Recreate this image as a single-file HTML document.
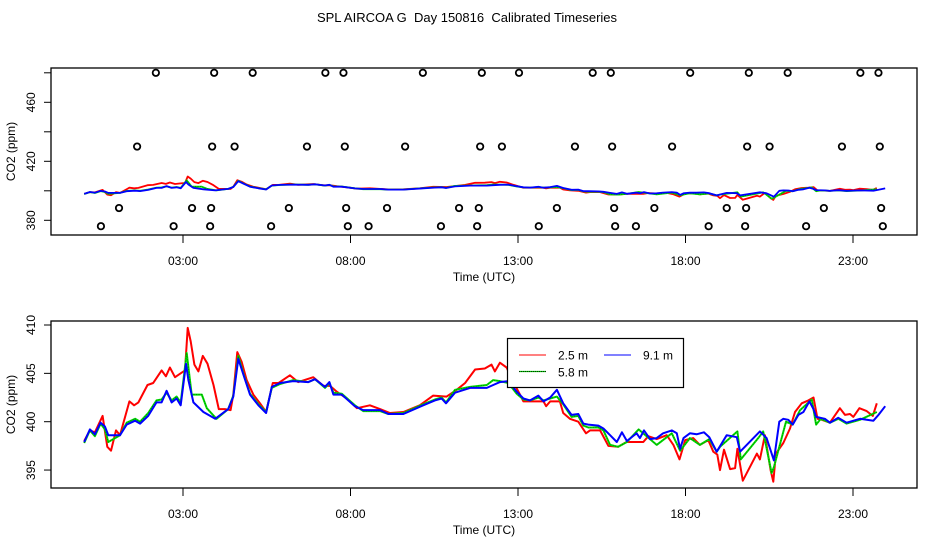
<!DOCTYPE html>
<html><head><meta charset="utf-8"><style>
html,body{margin:0;padding:0;background:#fff;}
svg{display:block;font-family:"Liberation Sans",Arial,sans-serif;}
</style></head><body>
<svg id="chart" width="936" height="540" viewBox="0 0 936 540" xmlns="http://www.w3.org/2000/svg">
<rect width="936" height="540" fill="#fff"/>
<text x="467" y="22" font-size="13" text-anchor="middle" style="white-space:pre" xml:space="preserve">SPL AIRCOA G  Day 150816  Calibrated Timeseries</text>
<g id="top"></g>
<g id="bot"></g>
</svg>
<script>
// ---- data (hours UTC, ppm) ----
const xTickHours = [3, 8, 13, 18, 23];
const xTickLabels = ["03:00", "08:00", "13:00", "18:00", "23:00"];
const topYTicks = [380, 400, 420, 440, 460, 480];
const topYTickLabels = ["380", "", "420", "", "460", ""];
const botYTicks = [395, 400, 405, 410];
const botYTickLabels = ["395", "400", "405", "410"];

const redHours = [0.05,0.22,0.37,0.6,0.74,0.85,1.0,1.12,1.40,1.54,1.67,1.94,2.11,2.36,2.49,2.61,2.76,2.93,3.06,3.14,3.23,3.34,3.46,3.59,3.73,3.91,4.07,4.25,4.42,4.5,4.62,4.75,4.9,5.1,5.3,5.48,5.68,5.85,6.19,6.44,6.89,7.19,7.39,7.59,7.89,8.19,8.58,8.88,9.18,9.58,10.07,10.47,10.87,11.17,11.42,11.72,12.01,12.21,12.31,12.46,12.66,12.86,13.06,13.16,13.76,13.84,13.96,14.25,14.35,14.55,14.8,15.03,15.15,15.45,15.7,15.99,16.24,16.74,16.89,17.14,17.44,17.64,17.82,17.99,18.23,18.43,18.68,18.83,18.95,19.03,19.15,19.33,19.48,19.55,19.71,20.13,20.22,20.37,20.54,20.62,20.70,20.92,21.12,21.27,21.47,21.67,21.82,21.94,22.07,22.31,22.61,22.76,22.91,23.01,23.19,23.41,23.59,23.71];
const redValues = [398.0,399.1,398.9,400.6,397.4,397.0,399.1,398.6,402.1,401.7,402.0,403.8,404.0,405.3,404.7,405.6,404.6,405.0,405.3,409.7,408.3,405.9,405.2,406.8,406.0,403.8,401.3,401.3,401.2,402.8,407.2,406.2,404.3,402.8,401.9,401.0,404.0,404.0,404.8,404.1,404.6,403.7,403.7,403.1,402.4,401.4,401.7,401.3,400.9,401.0,401.7,402.7,402.6,403.3,404.0,405.4,405.5,405.9,405.2,406.1,405.6,404.1,402.8,402.1,402.1,401.6,402.1,402.1,400.9,400.3,400.0,398.8,399.1,399.1,397.5,397.4,397.9,397.9,398.5,398.2,398.6,397.6,396.1,398.1,398.3,397.6,398.1,396.9,396.6,395.0,397.1,395.1,395.2,397.2,393.9,396.7,396.1,398.6,395.0,393.8,396.7,397.8,399.3,401.0,401.9,402.2,402.5,400.3,400.2,399.9,401.4,400.7,400.8,400.5,401.4,401.1,400.6,401.9];

const blueHours = [0.05,0.22,0.37,0.54,0.67,0.77,1.12,1.32,1.57,1.72,1.96,2.21,2.36,2.51,2.66,2.81,2.93,3.09,3.16,3.31,3.61,3.96,4.35,4.50,4.65,4.80,5.0,5.25,5.48,5.65,5.9,6.29,6.74,6.94,7.24,7.37,7.49,7.74,8.13,8.38,8.88,9.13,9.58,10.17,10.52,10.72,10.85,11.12,11.57,12.07,12.26,12.46,12.71,12.96,13.16,13.36,13.61,13.76,13.96,14.16,14.35,14.60,14.8,14.95,15.1,15.4,15.55,15.75,15.95,16.1,16.25,16.54,16.64,16.76,16.94,17.14,17.33,17.59,17.74,17.84,17.94,18.13,18.33,18.55,18.71,18.93,19.23,19.53,19.63,20.22,20.42,20.64,20.80,20.92,21.07,21.20,21.37,21.52,21.70,21.82,21.90,22.16,22.31,22.56,22.81,23.21,23.61,23.76,23.96];
const blueValues = [397.9,399.2,398.7,399.9,399.5,398.6,398.6,399.7,400.1,399.8,400.6,402.0,402.0,403.2,402.0,402.4,401.7,406.0,404.3,402.0,401.0,400.3,401.3,402.6,406.5,404.9,402.8,401.7,400.9,403.6,404.0,404.2,404.1,404.4,403.6,404.1,402.8,402.8,401.6,401.2,401.2,400.8,400.8,401.7,402.2,402.4,401.9,403.0,403.5,403.5,403.8,404.1,404.2,403.1,402.4,402.2,402.7,402.1,402.5,403.3,401.9,400.7,400.8,399.8,399.7,399.6,399.3,398.6,397.9,398.9,398.0,398.8,398.3,399.1,398.2,398.3,398.8,399.1,398.8,397.2,398.3,398.8,398.7,398.9,398.4,396.9,398.6,398.4,396.9,399.0,398.3,396.0,400.0,400.3,400.2,399.7,400.7,401.0,402.1,401.3,400.5,400.3,399.9,400.4,399.9,400.3,400.1,400.7,401.6];

const greenHours = [0.05,0.22,0.37,0.54,0.67,0.77,1.12,1.32,1.57,1.72,1.96,2.21,2.36,2.51,2.66,2.81,2.93,3.11,3.26,3.56,3.71,4.0,4.35,4.50,4.65,4.80,5.0,5.25,5.48,5.65,5.9,6.29,6.74,6.94,7.24,7.37,7.49,7.74,8.13,8.38,8.88,9.13,9.58,10.17,10.52,10.72,10.85,11.12,11.57,12.07,12.26,12.46,12.71,12.96,13.16,13.36,13.61,13.76,13.96,14.16,14.35,14.60,14.8,14.95,15.1,15.4,15.55,15.75,15.99,16.25,16.6,17.14,17.59,17.84,18.13,18.43,18.71,18.93,19.03,19.55,19.65,20.19,20.32,20.57,20.64,21.0,21.2,21.42,21.77,21.9,22.04,22.31,22.56,22.81,23.21,23.71];
const greenValues = [397.8,399.1,398.5,399.8,399.2,397.9,398.6,399.9,400.3,400.0,400.9,402.2,402.3,403.0,402.2,402.6,402.0,407.1,402.8,402.8,401.4,400.3,401.3,402.7,406.8,405.0,402.9,401.8,401.0,403.5,403.9,404.3,404.1,404.4,403.5,404.0,403.0,402.9,401.7,401.1,401.1,400.8,400.9,401.8,402.3,402.5,402.0,403.3,403.6,403.8,404.3,404.2,404.0,402.9,402.3,402.2,402.5,402.2,402.4,402.6,401.8,400.5,400.6,399.6,399.4,399.4,399.1,397.6,397.4,397.9,399.2,397.6,398.8,397.0,398.3,397.6,398.2,396.9,397.4,399.0,396.1,398.4,399.0,394.7,395.3,400.0,399.7,401.2,402.3,399.7,400.3,399.9,400.3,399.8,400.2,401.0];

const obsHours480 = [2.19,3.93,5.08,7.25,7.79,10.16,11.92,13.03,15.23,15.77,18.14,19.89,21.05,23.22,23.76];
const obsHours430 = [1.63,3.87,4.54,6.70,7.83,9.63,11.87,12.52,14.70,15.81,17.60,19.84,20.51,22.67,23.80];
const obsHours388 = [1.09,3.27,3.84,6.16,7.87,9.09,11.24,11.83,14.16,15.87,17.07,19.23,19.81,22.13,23.84];
const obsHours376 = [0.55,2.72,3.81,5.63,7.92,8.54,10.70,11.78,13.62,15.90,16.52,18.69,19.78,21.60,23.89];
const obsLevels = [480, 430, 388.3, 376];

// ---- axis functions ----
const NS = "http://www.w3.org/2000/svg";
const X0 = 51, X1 = 917;
function xScale(h){ return 82.5 + h * 33.5; }
function yTop(v){ return 220.3 - (v - 380) * 1.475; }
function yBot(v){ return 421.7 - (v - 400) * 9.67; }

function mk(parent, tag, attrs, text){
  const e = document.createElementNS(NS, tag);
  for (const k in attrs) e.setAttribute(k, attrs[k]);
  if (text !== undefined) e.textContent = text;
  parent.appendChild(e);
  return e;
}

function panel(g, top, bottom, yFn, yTicks, yLabels, lw, nameSuffix){
  const frame = mk(g, "rect", {x:X0, y:top, width:X1-X0, height:bottom-top, fill:"none", stroke:"#000", "stroke-width":1.3});
  
  
  xTickHours.forEach((h, i) => {
    const x = xScale(h);
    const t = mk(g, "line", {x1:x, x2:x, y1:bottom, y2:bottom+8, stroke:"#000", "stroke-width":1});
    
    
    const l = mk(g, "text", {x:x, y:bottom+30, "font-size":12, "text-anchor":"middle"}, xTickLabels[i]);
    
    
  });
  const xt = mk(g, "text", {x:484, y:bottom+46, "font-size":12, "text-anchor":"middle"}, "Time (UTC)");
  
  
  yTicks.forEach((v, i) => {
    const y = yFn(v);
    const t = mk(g, "line", {x1:X0-7, x2:X0, y1:y, y2:y, stroke:"#000", "stroke-width":1});
    
    
    if (yLabels[i]) {
      const l = mk(g, "text", {x:0, y:0, "font-size":12, "text-anchor":"middle", transform:`translate(35,${y}) rotate(-90)`}, yLabels[i]);
      
      
    }
  });
  const yt = mk(g, "text", {x:0, y:0, "font-size":12, "text-anchor":"middle", transform:`translate(15,${(top+bottom)/2}) rotate(-90)`}, "CO2 (ppm)");
  
  
  const series = [
    [redHours, redValues, "#f00", "series-2-5m"],
    [greenHours, greenValues, "#0d0", "series-5-8m"],
    [blueHours, blueValues, "#00f", "series-9-1m"]
  ];
  series.forEach(s => {
    const pts = s[0].map((h, i) => xScale(h).toFixed(1) + "," + yFn(s[1][i]).toFixed(1)).join(" ");
    const p = mk(g, "polyline", {points:pts, fill:"none", stroke:s[2], "stroke-width":lw, "stroke-linejoin":"round"});
    
    
    if (s[3] === "series-5-8m") {
      const d = mk(g, "polyline", {points:pts, fill:"none", stroke:"#000", "stroke-width":0.6, "stroke-dasharray":"1,1.5", opacity:0.6});
      
      
    }
  });
}

const topG = document.getElementById("top");
const botG = document.getElementById("bot");
panel(topG, 68, 235, yTop, topYTicks, topYTickLabels, 1.8, "top");

[obsHours480, obsHours430, obsHours388, obsHours376].forEach((arr, r) => {
  arr.forEach(h => {
    const c = mk(topG, "circle", {cx:xScale(h), cy:yTop(obsLevels[r]), r:3.2, fill:"none", stroke:"#000", "stroke-width":1.8});
    
    
  });
});

panel(botG, 321, 488, yBot, botYTicks, botYTickLabels, 2, "bottom");

const lg = mk(botG, "g", {});


mk(lg, "rect", {x:507.5, y:338.5, width:176, height:49, fill:"#fff", stroke:"#000", "stroke-width":1.2});
const e1 = mk(lg, "g", {});


mk(e1, "line", {x1:519, x2:546, y1:355, y2:355, stroke:"#f00", "stroke-width":1});
mk(e1, "text", {x:558, y:359.5, "font-size":12}, "2.5 m");
const e2 = mk(lg, "g", {});


mk(e2, "line", {x1:604, x2:631, y1:355, y2:355, stroke:"#00f", "stroke-width":1});
mk(e2, "text", {x:643, y:359.5, "font-size":12}, "9.1 m");
const e3 = mk(lg, "g", {});


mk(e3, "line", {x1:519, x2:546, y1:371.5, y2:371.5, stroke:"#0c0", "stroke-width":1.2});
mk(e3, "line", {x1:519, x2:546, y1:371.5, y2:371.5, stroke:"#000", "stroke-width":0.8, "stroke-dasharray":"1,1"});
mk(e3, "text", {x:558, y:376.5, "font-size":12}, "5.8 m");
</script>
</body></html>
